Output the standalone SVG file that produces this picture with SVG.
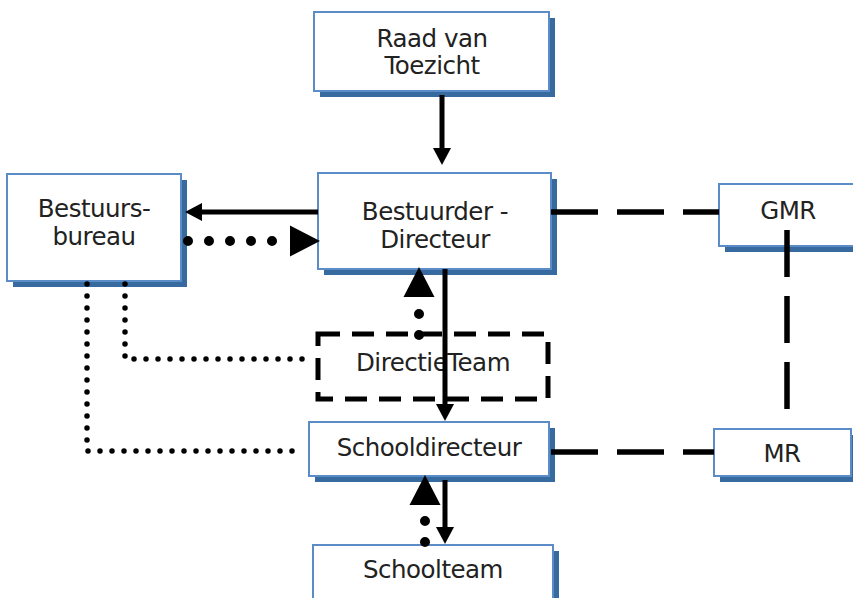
<svg xmlns="http://www.w3.org/2000/svg" width="853" height="598" viewBox="0 0 853 598">
<style>
.sh{fill:#376a9f;stroke:none}
.bx{fill:#fff;stroke:#5b8cc8;stroke-width:2}
.dbx{fill:none;stroke:#000;stroke-width:5;stroke-dasharray:22 12}
.t{font-family:"DejaVu Sans","Liberation Sans",sans-serif;font-size:24.5px;letter-spacing:-0.5px;fill:#222;text-anchor:middle}
.solid{stroke:#000;stroke-width:5;fill:none}
.dash{stroke:#000;stroke-width:5.5;fill:none;stroke-dasharray:47 19}
.dotbig{stroke:#000;stroke-width:10;fill:none;stroke-dasharray:0 21;stroke-linecap:round}
.dotsm{stroke:#000;stroke-width:5.5;fill:none;stroke-dasharray:0 12;stroke-linecap:round}
</style>
<defs>
<marker id="ah" markerUnits="userSpaceOnUse" markerWidth="18" markerHeight="18" refX="0" refY="9" orient="auto" overflow="visible">
<path d="M0,0 L17,9 L0,18 Z" fill="#000"/>
</marker>
<marker id="ahb" markerUnits="userSpaceOnUse" markerWidth="31" markerHeight="32" refX="0" refY="15.5" orient="auto" overflow="visible">
<path d="M0,0 L30,15.5 L0,31 Z" fill="#000"/>
</marker>
</defs>

<g id="raad">
<rect class="sh" x="320" y="18" width="235" height="79"/>
<rect class="bx" x="314" y="12" width="235" height="79"/>
<text class="t" x="432" y="47">Raad van</text>
<text class="t" x="432" y="74">Toezicht</text>
</g>
<g id="bestuursbureau">
<rect class="sh" x="13" y="180" width="174" height="107"/>
<rect class="bx" x="7" y="174" width="174" height="107"/>
<text class="t" x="94" y="217">Bestuurs-</text>
<text class="t" x="94" y="245">bureau</text>
</g>
<g id="bestuurder">
<rect class="sh" x="324" y="179" width="233" height="96"/>
<rect class="bx" x="318" y="173" width="233" height="96"/>
<text class="t" x="435" y="220">Bestuurder -</text>
<text class="t" x="435" y="248">Directeur</text>
</g>
<g id="gmr">
<rect class="sh" x="725" y="190" width="138" height="62"/>
<rect class="bx" x="719" y="184" width="138" height="62"/>
<text class="t" x="788" y="219">GMR</text>
</g>
<g id="directieteam">
<rect class="dbx" x="318" y="334" width="230" height="65"/>
<text class="t" x="433" y="371">DirectieTeam</text>
</g>
<g id="schooldirecteur">
<rect class="sh" x="315" y="428" width="240" height="54"/>
<rect class="bx" x="309" y="422" width="240" height="54"/>
<text class="t" x="429" y="456">Schooldirecteur</text>
</g>
<g id="mr">
<rect class="sh" x="720" y="435" width="137" height="47"/>
<rect class="bx" x="714" y="429" width="137" height="47"/>
<text class="t" x="782" y="462">MR</text>
</g>
<g id="schoolteam">
<rect class="sh" x="319" y="551" width="240" height="60"/>
<rect class="bx" x="313" y="545" width="240" height="60"/>
<text class="t" x="433" y="578">Schoolteam</text>
</g>

<g id="connectors">
<line class="solid" x1="442" y1="95" x2="442" y2="148" marker-end="url(#ah)"/>
<line class="solid" x1="318" y1="212" x2="202" y2="212" marker-end="url(#ah)"/>
<line class="dotbig" x1="188" y1="241" x2="290" y2="241" marker-end="url(#ahb)"/>
<line class="dash" x1="551" y1="212" x2="719" y2="212"/>
<line class="dash" x1="787" y1="230" x2="787" y2="410"/>
<line class="dash" x1="551" y1="452" x2="714" y2="452"/>
<line class="solid" x1="445" y1="269" x2="445" y2="404" marker-end="url(#ah)"/>
<line class="dotbig" x1="419" y1="335" x2="419" y2="297" marker-end="url(#ahb)"/>
<polyline class="dotsm" points="125,284 125,359 307,359"/>
<polyline class="dotsm" points="87,284 87,451 299,451"/>
<line class="solid" x1="445" y1="480" x2="445" y2="527" marker-end="url(#ah)"/>
<line class="dotbig" x1="425" y1="542" x2="425" y2="505" marker-end="url(#ahb)"/>
</g>
</svg>
